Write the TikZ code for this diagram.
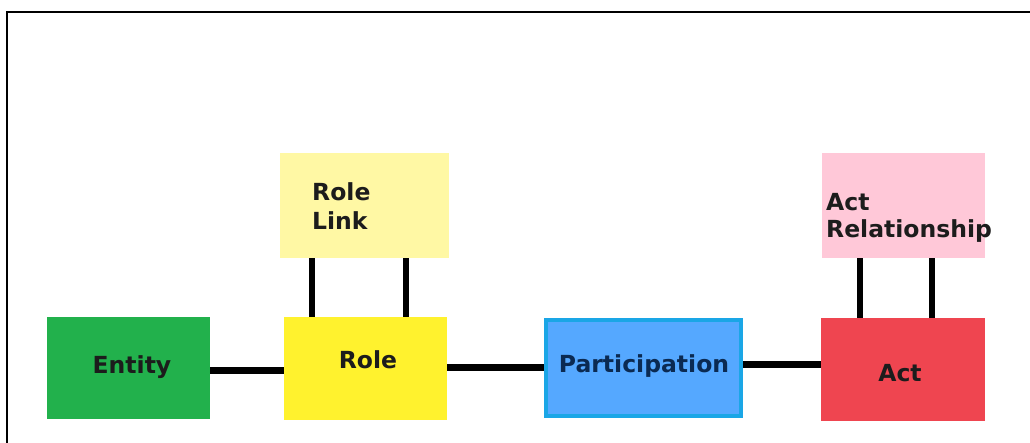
\documentclass[tikz,border=0pt]{standalone}
\usepackage{fontspec}
\setmainfont{DejaVu Sans}
\definecolor{entgreen}{HTML}{22B14C}
\definecolor{roleyel}{HTML}{FFF22E}
\definecolor{linkyel}{HTML}{FFF8A4}
\definecolor{partblue}{HTML}{55A8FF}
\definecolor{partedge}{HTML}{1AA6E6}
\definecolor{actred}{HTML}{EF4550}
\definecolor{relpink}{HTML}{FFC8D8}
\definecolor{txtdark}{HTML}{1C1C1C}
\definecolor{txtnavy}{HTML}{0B2A52}
\begin{document}
\begin{tikzpicture}[x=1pt,y=-1pt,
  box/.style={rectangle, draw=none, inner sep=0pt},
  lbl/.style={inner sep=0pt, font=\bfseries\fontsize{23.5}{29}\selectfont, text=txtdark, align=left},
  conn/.style={line width=7pt, black},
  vconn/.style={line width=6.5pt, black}]
\useasboundingbox (0,0) rectangle (1030,443);
\fill[white] (0,0) rectangle (1030,443);
% frame (top and left edges only)
\coordinate (ftl) at (7,12.5);
\coordinate (ftr) at (1030,12.5);
\coordinate (fbl) at (7,443);
\draw[line width=2pt, black] (fbl) -- (ftl) -- (ftr);
% boxes
\node[box, fill=entgreen, minimum width=163pt, minimum height=102pt] (entity) at (128.5,368) {};
\node[box, fill=roleyel, minimum width=163pt, minimum height=103pt] (role) at (365.5,368.5) {};
\node[box, fill=linkyel, minimum width=169pt, minimum height=105pt] (rlink) at (364.5,205.5) {};
\node[box, fill=partblue, draw=partedge, line width=3.5pt, minimum width=195pt, minimum height=96pt] (part) at (643.5,368) {};
\node[box, fill=actred, minimum width=164pt, minimum height=103pt] (act) at (903,369.5) {};
\node[box, fill=relpink, minimum width=163pt, minimum height=105pt] (arel) at (903.5,205.5) {};
% texts
\node[lbl, anchor=base] (enttxt) at (132,373) {Entity};
\node[lbl, anchor=base] (roletxt) at (368,368) {Role};
\node[lbl, anchor=base, text=txtnavy] (parttxt) at (644,372) {Participation};
\node[lbl, anchor=base] (acttxt) at (900,381) {Act};
\node[lbl, anchor=north west] (rlinktxt) at (312,182) {Role\\Link};
\node[lbl, anchor=north west, font=\bfseries\fontsize{23.5}{27}\selectfont] (areltxt) at (826,193) {Act\\Relationship};
% horizontal connectors
\draw[conn] ([yshift=-2pt]entity.east) -- ([yshift=-1.5pt]role.west);
\draw[conn] ([yshift=1.5pt]role.east) -- ([yshift=1pt]part.west);
\draw[conn] ([yshift=4pt]part.east) -- ([yshift=4pt]part.east -| act.west);
% vertical connectors
\draw[vconn] ([xshift=-52.5pt]rlink.south) -- ([xshift=-52.5pt]rlink.south |- role.north);
\draw[vconn] ([xshift=41.5pt]rlink.south) -- ([xshift=41.5pt]rlink.south |- role.north);
\draw[vconn] ([xshift=-43.5pt]arel.south) -- ([xshift=-43.5pt]arel.south |- act.north);
\draw[vconn] ([xshift=28.5pt]arel.south) -- ([xshift=28.5pt]arel.south |- act.north);
\end{tikzpicture}
\end{document}
